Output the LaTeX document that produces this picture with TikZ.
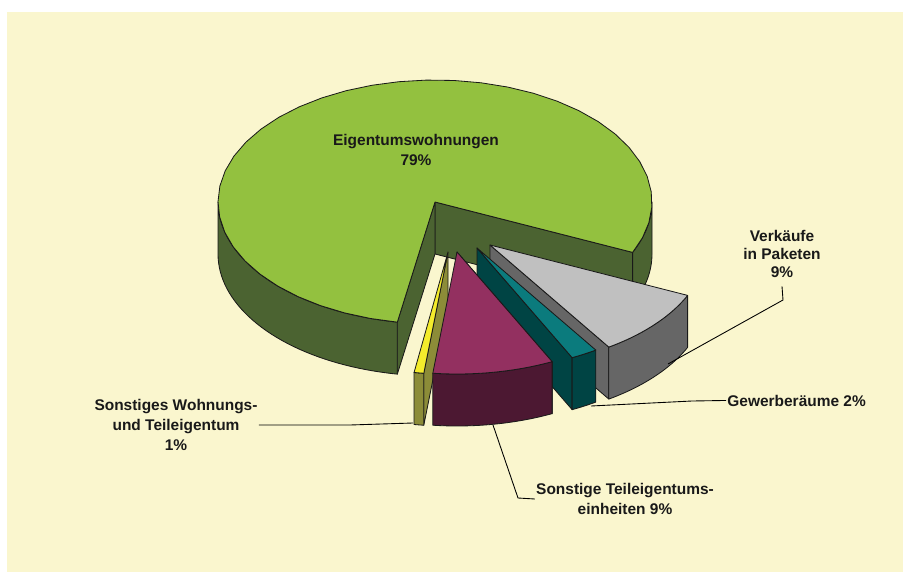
\documentclass[tikz,border=0pt]{standalone}
\usepackage{fontspec}
\setmainfont{Liberation Sans}
\usepackage{xcolor}
\usepackage{tikz}
\usetikzlibrary{positioning}

\definecolor{bgcream}{HTML}{FAF6CE}
\definecolor{greentop}{HTML}{93C13F}
\definecolor{greenwall}{HTML}{4B6331}
\definecolor{greytop}{HTML}{C0C0C0}
\definecolor{greywall}{HTML}{666666}
\definecolor{tealtop}{HTML}{0B7B7D}
\definecolor{tealwall}{HTML}{004444}
\definecolor{purpletop}{HTML}{933060}
\definecolor{purplewall}{HTML}{4C1832}
\definecolor{yellowtop}{HTML}{F4EC2C}
\definecolor{yellowwall}{HTML}{8C8C38}

\newcommand{\prx}{217}
\newcommand{\pry}{122}
\newcommand{\pdep}{52}

\begin{document}
\begin{tikzpicture}[
    x=0.03cm, y=-0.03cm,
    edge/.style={draw=black!90, line width=0.7pt, line join=round},
    lbl/.style={font=\bfseries\fontsize{13.2}{17}\selectfont, align=center, inner sep=1pt, text=black!90},
    leader/.style={draw=black, line width=0.75pt},
    arcpts/.style={samples=40},
]
\useasboundingbox (0,0) rectangle (903,572);
\fill[bgcream] (7,12) rectangle (903,572);

% apex of the pie and of the pulled out slices
\coordinate (cg) at (435,202);
\coordinate (cgr) at (490,245);
\coordinate (ct) at (477,248);
\coordinate (cp) at (457,252);
\coordinate (cy) at (448,252);

% big slice
\begin{scope}[shift={(cg)}]
  \draw[edge, fill=greenwall] (0,0) -- ({\prx*cos(24.4)},{\pry*sin(24.4)}) -- ++(0,\pdep) -- (0,\pdep) -- cycle;
  \draw[edge, fill=greenwall] (0,0) -- ({\prx*cos(100)},{\pry*sin(100)}) -- ++(0,\pdep) -- (0,\pdep) -- cycle;
  \draw[edge, fill=greenwall] plot[arcpts, domain=100:180] ({\prx*cos(\x)},{\pry*sin(\x)})
    -- plot[arcpts, domain=180:100] ({\prx*cos(\x)},{\pry*sin(\x)+\pdep}) -- cycle;
  \draw[edge, fill=greenwall] plot[arcpts, domain=0:24.4] ({\prx*cos(\x)},{\pry*sin(\x)})
    -- plot[arcpts, domain=24.4:0] ({\prx*cos(\x)},{\pry*sin(\x)+\pdep}) -- cycle;
  \draw[edge, fill=greentop] (0,0) -- plot[arcpts, domain=100:384.4] ({\prx*cos(\x)},{\pry*sin(\x)}) -- cycle;
\end{scope}

% pulled out slices, back to front
\foreach \apex/\sa/\sb/\side/\topc/\wallc in {cgr/24.4/56.8/56.8/greytop/greywall, ct/56.8/64/64/tealtop/tealwall, cy/96.4/99/96.4/yellowtop/yellowwall, cp/64/96.4/64/purpletop/purplewall}{
  \begin{scope}[shift={(\apex)}]
    \draw[edge, fill=\wallc] (0,0) -- ({\prx*cos(\side)},{\pry*sin(\side)}) -- ++(0,\pdep) -- (0,\pdep) -- cycle;
    \draw[edge, fill=\wallc] plot[arcpts, domain=\sa:\sb] ({\prx*cos(\x)},{\pry*sin(\x)})
      -- plot[arcpts, domain=\sb:\sa] ({\prx*cos(\x)},{\pry*sin(\x)+\pdep}) -- cycle;
    \draw[edge, fill=\topc] (0,0) -- plot[arcpts, domain=\sa:\sb] ({\prx*cos(\x)},{\pry*sin(\x)}) -- cycle;
  \end{scope}
}

% labels
\node[lbl] (ewlabel) at (416,150) {Eigentumswohnungen\\79\%};
\node[lbl, font=\bfseries\fontsize{13.2}{15.7}\selectfont] (vklabel) at (782,254) {Verkäufe\\in Paketen\\9\%};
\node[lbl, anchor=base west] (gwlabel) at (726,406) {Gewerberäume 2\%};
\node[lbl] (stlabel) at (625,499) {Sonstige Teileigentums-\\einheiten 9\%};
\node[lbl] (swlabel) at (176,425) {Sonstiges Wohnungs-\\und Teileigentum\\1\%};

% leader lines
\coordinate (yfoot) at (413,423);
\coordinate (pfoot) at (493,425);
\coordinate (tfoot) at (591,406);
\coordinate (gfoot) at (668,364);
\draw[leader] (swlabel.east) -- (350,425) -- (yfoot);
\draw[leader] (pfoot) -- (518,498) -- (stlabel.west);
\draw[leader] (tfoot) -- (692,401) -- (gwlabel.west);
\draw[leader] (vklabel.south) ++(0,7) -- (783,300) -- (gfoot);
\end{tikzpicture}
\end{document}
